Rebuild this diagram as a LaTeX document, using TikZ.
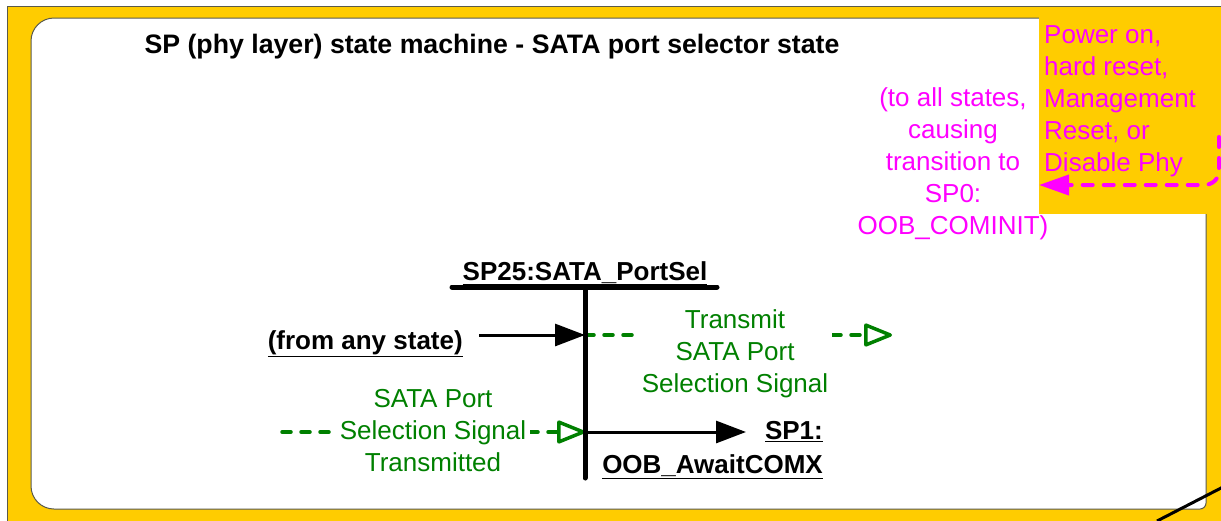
\documentclass[tikz,border=0pt]{standalone}
\usepackage{fontspec}
\setmainfont{Liberation Sans}
\usetikzlibrary{arrows.meta}
\definecolor{frameyellow}{HTML}{FFCC00}
\definecolor{resetmag}{HTML}{FF00FF}
\definecolor{sigreen}{HTML}{008000}
\definecolor{frameedge}{HTML}{5A5A4A}
\begin{document}
\begin{tikzpicture}[x=1pt,y=-1pt,
  txt/.style={font=\fontsize{26}{32}\selectfont, inner sep=0pt},
  boldtxt/.style={font=\bfseries\fontsize{26}{34}\selectfont, inner sep=0pt},
  titletxt/.style={font=\bfseries\fontsize{26.7}{30}\selectfont, inner sep=0pt},
  magtxt/.style={txt, text=resetmag},
  grntxt/.style={txt, text=sigreen, fill=white, inner xsep=4pt, inner ysep=0pt},
  statebar/.style={line width=5pt, line cap=round},
  blackarrow/.style={line width=3pt, -{Triangle[length=30pt 0 0,width=22pt 0 0]}},
  sigarrow/.style={sigreen, line width=3.5pt, line cap=round, dash pattern=on 9pt off 10pt, -{Triangle[open,length=31pt 0 0,width=24pt 0 0,round]}},
  resetarrow/.style={resetmag, line width=4pt, line cap=round, dash pattern=on 10pt off 11pt, -{Triangle[length=30pt 0 0,width=20pt 0 0]}},
]
\useasboundingbox (0,0) rectangle (1221,520);
\fill[white] (0,0) rectangle (1221,520);
% outer yellow frame
\filldraw[fill=frameyellow, draw=frameedge, line width=1pt] (7,6) rectangle (1240,540);
% white panel
\filldraw[fill=white, draw=frameedge, line width=1pt]
  (31,41) .. controls (31,28.3) and (41.3,18) .. (54,18) -- (1206,18) -- (1206,503)
  .. controls (1206,506.3) and (1203.3,509) .. (1200,509) -- (54,509)
  .. controls (41.3,509) and (31,498.7) .. (31,486) -- cycle;
% power-on box
\node[fill=frameyellow, anchor=north west, minimum width=185pt, minimum height=198pt, inner sep=0pt] (pwrbox) at (1039,16) {};
\node[magtxt, anchor=north west, align=left] (pwrtext) at (1044,25) {Power on,\\hard reset,\\Management\\Reset, or\\Disable Phy};
\coordinate (pwrstart) at (1219,137);
\coordinate (pwrtip) at (pwrbox.west |- 0,185);
\draw[resetarrow] (pwrstart) -- (1219,171) .. controls (1219,178) and (1213,185) .. (1204,185) -- (pwrtip);
\node[magtxt, align=center] (toall) at (953,164) {(to all states,\\causing\\transition to\\SP0:\\OOB\_COMINIT)};
% title
\node[titletxt] (title) at (492,47) {SP (phy layer) state machine - SATA port selector state};
% state
\node[boldtxt, anchor=base] (sp25) at (585,280) {\underline{SP25:SATA\_PortSel}};
\coordinate (hbarL) at (452,287);
\coordinate (hbarR) at (717,287);
\coordinate (vtop) at (585,287);
\coordinate (vbot) at (585,478);
% incoming
\node[boldtxt, anchor=base east] (fromany) at (463,349) {\underline{(from any state)}};
\coordinate (fromstart) at (479,335);
\coordinate (inA) at (585,335);
\draw[blackarrow] (fromstart) -- (inA);
% transmit signal
\coordinate (txend) at (892,335);
\draw[sigarrow] (inA) -- (txend);
\node[grntxt, align=center] (txlabel) at (735,354) {Transmit\\SATA Port\\Selection Signal};
% received signal
\coordinate (rxstart) at (282,432);
\coordinate (rxend) at (585,432);
\draw[sigarrow] (rxstart) -- (rxend);
\node[grntxt, align=center] (rxlabel) at (433,431) {SATA Port\\Selection Signal\\Transmitted};
% exit
\coordinate (outA) at (585,432);
\coordinate (outtip) at (746,432);
\draw[blackarrow] (outA) -- (outtip);
\node[boldtxt, anchor=north east, align=right] (sp1) at (823,421) {\underline{SP1:}\\\underline{OOB\_AwaitCOMX}};
% bars
\draw[statebar] (hbarL) -- (hbarR);
\draw[statebar] (vtop) -- (vbot);
% corner line
\coordinate (diagA) at (1157,521);
\coordinate (diagB) at (1223,487);
\draw[line width=3pt] (diagA) -- (diagB);
\end{tikzpicture}
\end{document}
